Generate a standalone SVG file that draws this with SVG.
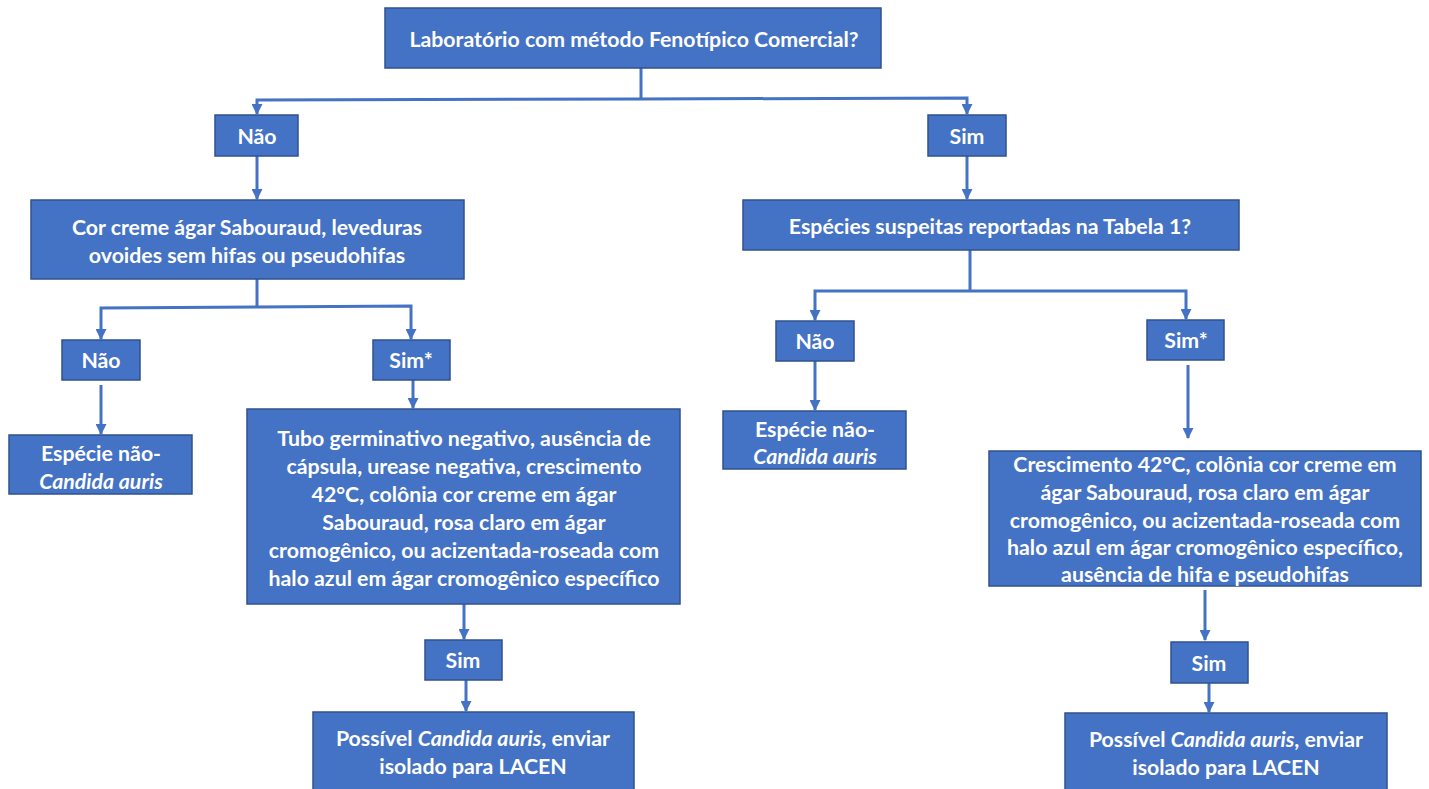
<svg xmlns="http://www.w3.org/2000/svg" width="1429" height="789" viewBox="0 0 1429 789">
<style>
.box{fill:#4472C4;stroke:#2F528F;stroke-width:1.5}
.t{fill:#fff;font-family:Lato,"Open Sans","Liberation Sans",sans-serif;font-weight:bold;font-size:21.3px;text-anchor:middle;dominant-baseline:central}
.i{font-style:italic}
.c{fill:none;stroke:#4472C4;stroke-width:3;marker-end:url(#ah)}
.l{fill:none;stroke:#4472C4;stroke-width:3}
</style>
<defs>
<marker id="ah" viewBox="0 0 10 10" refX="9" refY="5" markerWidth="11" markerHeight="11" markerUnits="userSpaceOnUse" orient="auto">
<path d="M0,0 L10,5 L0,10 Z" fill="#4472C4"/>
</marker>
</defs>
<rect width="1429" height="789" fill="#fff"/>
<g id="connectors">
<polyline class="l" points="641,68 641,99"/>
<polyline class="c" points="641,99 257,100 257,114"/>
<polyline class="c" points="641,99 967,98 967,114"/>
<line class="c" x1="257" y1="156" x2="257" y2="199"/>
<line class="c" x1="967" y1="156" x2="967" y2="199"/>
<polyline class="l" points="257,279 257,307"/>
<polyline class="c" points="257,307 101,308 101,339"/>
<polyline class="c" points="257,307 411,306 411,339"/>
<line class="c" x1="101" y1="385" x2="101" y2="434"/>
<line class="c" x1="413" y1="380" x2="413" y2="408"/>
<line class="c" x1="464" y1="604" x2="464" y2="639"/>
<line class="c" x1="466" y1="680" x2="466" y2="711"/>
<polyline class="l" points="970,250 970,291"/>
<polyline class="c" points="970,291 815,291 815,320"/>
<polyline class="c" points="970,291 1186,291 1186,319"/>
<line class="c" x1="815" y1="361" x2="815" y2="410"/>
<line class="c" x1="1188" y1="365" x2="1188" y2="438"/>
<line class="c" x1="1205" y1="590" x2="1205" y2="640"/>
<line class="c" x1="1209" y1="683" x2="1209" y2="712"/>
</g>
<g id="n_top">
<rect class="box" x="385" y="8" width="496" height="60"/>
<text class="t" x="634" y="39">Laboratório com método Fenotípico Comercial?</text>
</g>
<g id="n_nao1">
<rect class="box" x="215" y="115" width="83" height="41"/>
<text class="t" x="257" y="136">Não</text>
</g>
<g id="n_sim1">
<rect class="box" x="928" y="115" width="78" height="41"/>
<text class="t" x="967" y="136">Sim</text>
</g>
<g id="n_cor">
<rect class="box" x="31" y="200" width="433" height="79"/>
<text class="t" x="247" y="227">Cor creme ágar Sabouraud, leveduras</text>
<text class="t" x="247" y="255">ovoides sem hifas ou pseudohifas</text>
</g>
<g id="n_nao2">
<rect class="box" x="62" y="340" width="78" height="40"/>
<text class="t" x="101" y="360">Não</text>
</g>
<g id="n_sim2">
<rect class="box" x="373" y="340" width="77" height="40"/>
<text class="t" x="411" y="360">Sim*</text>
</g>
<g id="n_esp1">
<rect class="box" x="9" y="435" width="183" height="59"/>
<text class="t" x="101" y="453">Espécie não-</text>
<text class="t i" x="101" y="481">Candida auris</text>
</g>
<g id="n_tubo">
<rect class="box" x="247" y="409" width="433" height="195"/>
<text class="t" x="464" y="438">Tubo germinativo negativo, ausência de</text>
<text class="t" x="464" y="466">cápsula, urease negativa, crescimento</text>
<text class="t" x="464" y="494">42°C, colônia cor creme em ágar</text>
<text class="t" x="464" y="522">Sabouraud, rosa claro em ágar</text>
<text class="t" x="464" y="550">cromogênico, ou acizentada-roseada com</text>
<text class="t" x="464" y="578">halo azul em ágar cromogênico específico</text>
</g>
<g id="n_sim3">
<rect class="box" x="425" y="640" width="77" height="40"/>
<text class="t" x="463" y="660">Sim</text>
</g>
<g id="n_poss1">
<rect class="box" x="313" y="712" width="321" height="80"/>
<text class="t" x="473" y="738">Possível <tspan class="i">Candida auris</tspan>, enviar</text>
<text class="t" x="473" y="766">isolado para LACEN</text>
</g>
<g id="n_especies">
<rect class="box" x="743" y="200" width="496" height="50"/>
<text class="t" x="990" y="226">Espécies suspeitas reportadas na Tabela 1?</text>
</g>
<g id="n_nao3">
<rect class="box" x="776" y="321" width="78" height="40"/>
<text class="t" x="815" y="341">Não</text>
</g>
<g id="n_sim4">
<rect class="box" x="1147" y="320" width="77" height="40"/>
<text class="t" x="1186" y="340">Sim*</text>
</g>
<g id="n_esp2">
<rect class="box" x="723" y="411" width="183" height="58"/>
<text class="t" x="815" y="429">Espécie não-</text>
<text class="t i" x="815" y="456">Candida auris</text>
</g>
<g id="n_cresc">
<rect class="box" x="989" y="451" width="432" height="135"/>
<text class="t" x="1205" y="464">Crescimento 42°C, colônia cor creme em</text>
<text class="t" x="1205" y="492">ágar Sabouraud, rosa claro em ágar</text>
<text class="t" x="1205" y="520">cromogênico, ou acizentada-roseada com</text>
<text class="t" x="1205" y="547">halo azul em ágar cromogênico específico,</text>
<text class="t" x="1205" y="574">ausência de hifa e pseudohifas</text>
</g>
<g id="n_sim5">
<rect class="box" x="1171" y="642" width="77" height="41"/>
<text class="t" x="1209" y="663">Sim</text>
</g>
<g id="n_poss2">
<rect class="box" x="1065" y="713" width="322" height="80"/>
<text class="t" x="1226" y="739">Possível <tspan class="i">Candida auris</tspan>, enviar</text>
<text class="t" x="1226" y="767">isolado para LACEN</text>
</g>
</svg>
